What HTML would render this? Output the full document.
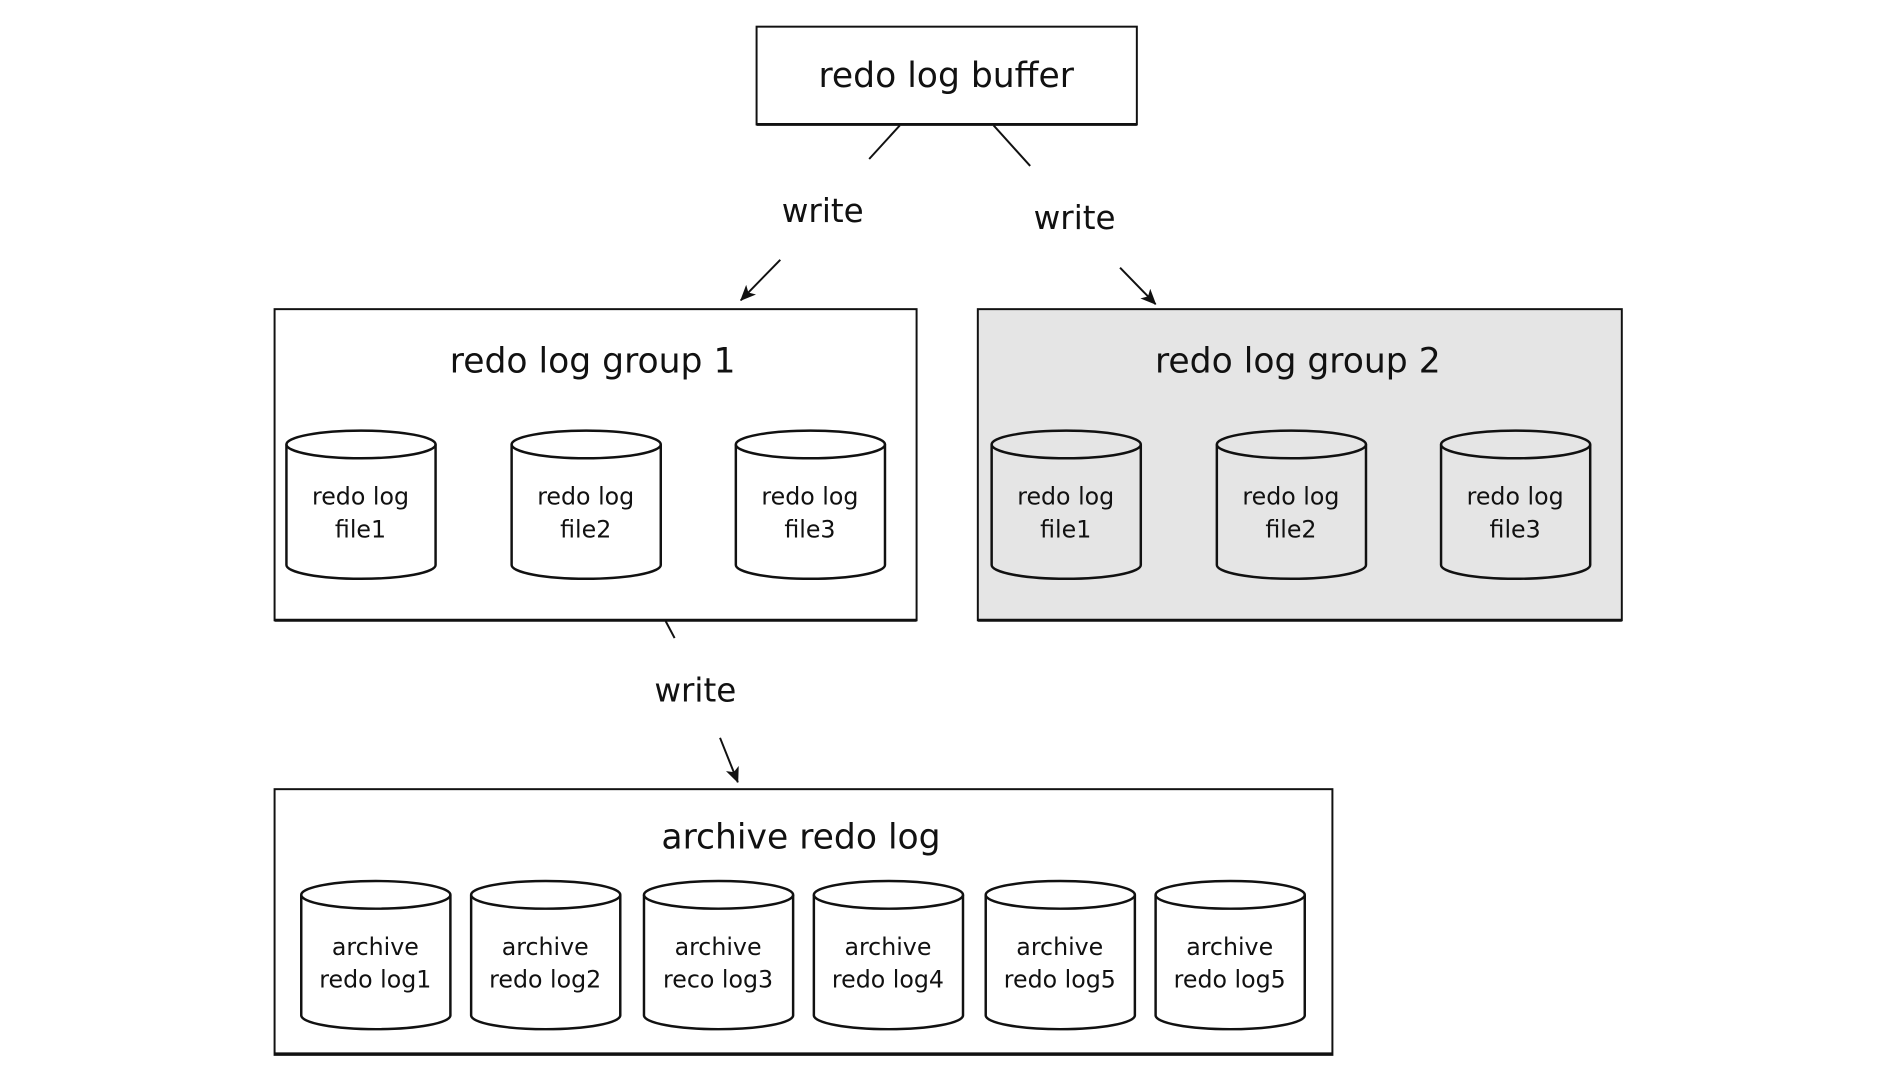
<!DOCTYPE html>
<html><head><meta charset="utf-8"><style>
html,body{margin:0;padding:0;background:#fff;}
svg{display:block;}
text{font-family:"DejaVu Sans","Liberation Sans",sans-serif;fill:#111;text-anchor:middle;}
</style></head><body>
<svg width="1888" height="1076" viewBox="0 0 1888 1076" xmlns="http://www.w3.org/2000/svg">
<defs>
<marker id="ah" markerWidth="16" markerHeight="14" refX="15" refY="7" orient="auto" markerUnits="userSpaceOnUse" viewBox="0 0 16 14">
<path d="M0,0 L16,7 L0,14 L4,7 z" fill="#111"/></marker>
<g id="cyl">
<path d="M0,14 L0,136 A75.5,14 0 0 0 151,136 L151,14" fill="none" stroke="#111" stroke-width="2.5"/>
<ellipse cx="75.5" cy="14" rx="75.5" ry="14" fill="none" stroke="#111" stroke-width="2.5"/>
</g>
</defs>
<g transform="scale(0.9877)">
<rect x="766" y="27" width="385" height="99" fill="#fff" stroke="#111" stroke-width="2"/>
<line x1="766" y1="126" x2="1151" y2="126" stroke="#111" stroke-width="3"/>
<text x="958" y="88" font-size="35">redo log buffer</text>
<line x1="911" y1="127" x2="880" y2="161" stroke="#111" stroke-width="2"/>
<line x1="790" y1="263" x2="750" y2="304" stroke="#111" stroke-width="2" marker-end="url(#ah)"/>
<text x="833" y="225" font-size="33">write</text>
<line x1="1006" y1="127" x2="1043" y2="168" stroke="#111" stroke-width="2"/>
<line x1="1134" y1="271" x2="1170" y2="308" stroke="#111" stroke-width="2" marker-end="url(#ah)"/>
<text x="1088" y="232" font-size="33">write</text>
<line x1="674" y1="629" x2="683" y2="646" stroke="#111" stroke-width="2"/>
<line x1="729" y1="747" x2="747" y2="792" stroke="#111" stroke-width="2" marker-end="url(#ah)"/>
<text x="704" y="710" font-size="33">write</text>
<rect x="278" y="313" width="650" height="315" fill="#fff" stroke="#111" stroke-width="2"/>
<line x1="278" y1="628" x2="928" y2="628" stroke="#111" stroke-width="3"/>
<text x="600" y="377" font-size="35">redo log group 1</text>
<use href="#cyl" x="290" y="436"/><use href="#cyl" x="518" y="436"/><use href="#cyl" x="745" y="436"/>
<g font-size="24">
<text x="365" y="511">redo log</text><text x="365" y="544">file1</text>
<text x="593" y="511">redo log</text><text x="593" y="544">file2</text>
<text x="820" y="511">redo log</text><text x="820" y="544">file3</text>
</g>
<rect x="990" y="313" width="652" height="315" fill="#e5e5e5" stroke="#111" stroke-width="2"/>
<line x1="990" y1="628" x2="1642" y2="628" stroke="#111" stroke-width="3"/>
<text x="1314" y="377" font-size="35">redo log group 2</text>
<use href="#cyl" x="1004" y="436"/><use href="#cyl" x="1232" y="436"/><use href="#cyl" x="1459" y="436"/>
<g font-size="24">
<text x="1079" y="511">redo log</text><text x="1079" y="544">file1</text>
<text x="1307" y="511">redo log</text><text x="1307" y="544">file2</text>
<text x="1534" y="511">redo log</text><text x="1534" y="544">file3</text>
</g>
<rect x="278" y="799" width="1071" height="269" fill="#fff" stroke="#111" stroke-width="2"/>
<line x1="278" y1="1067" x2="1349" y2="1067" stroke="#111" stroke-width="3"/>
<text x="811" y="859" font-size="35">archive redo log</text>
<use href="#cyl" x="305" y="892"/><use href="#cyl" x="477" y="892"/><use href="#cyl" x="652" y="892"/>
<use href="#cyl" x="824" y="892"/><use href="#cyl" x="998" y="892"/><use href="#cyl" x="1170" y="892"/>
<g font-size="24">
<text x="380" y="967">archive</text><text x="380" y="1000">redo log1</text>
<text x="552" y="967">archive</text><text x="552" y="1000">redo log2</text>
<text x="727" y="967">archive</text><text x="727" y="1000">reco log3</text>
<text x="899" y="967">archive</text><text x="899" y="1000">redo log4</text>
<text x="1073" y="967">archive</text><text x="1073" y="1000">redo log5</text>
<text x="1245" y="967">archive</text><text x="1245" y="1000">redo log5</text>
</g>
</g>
</svg>
</body></html>
